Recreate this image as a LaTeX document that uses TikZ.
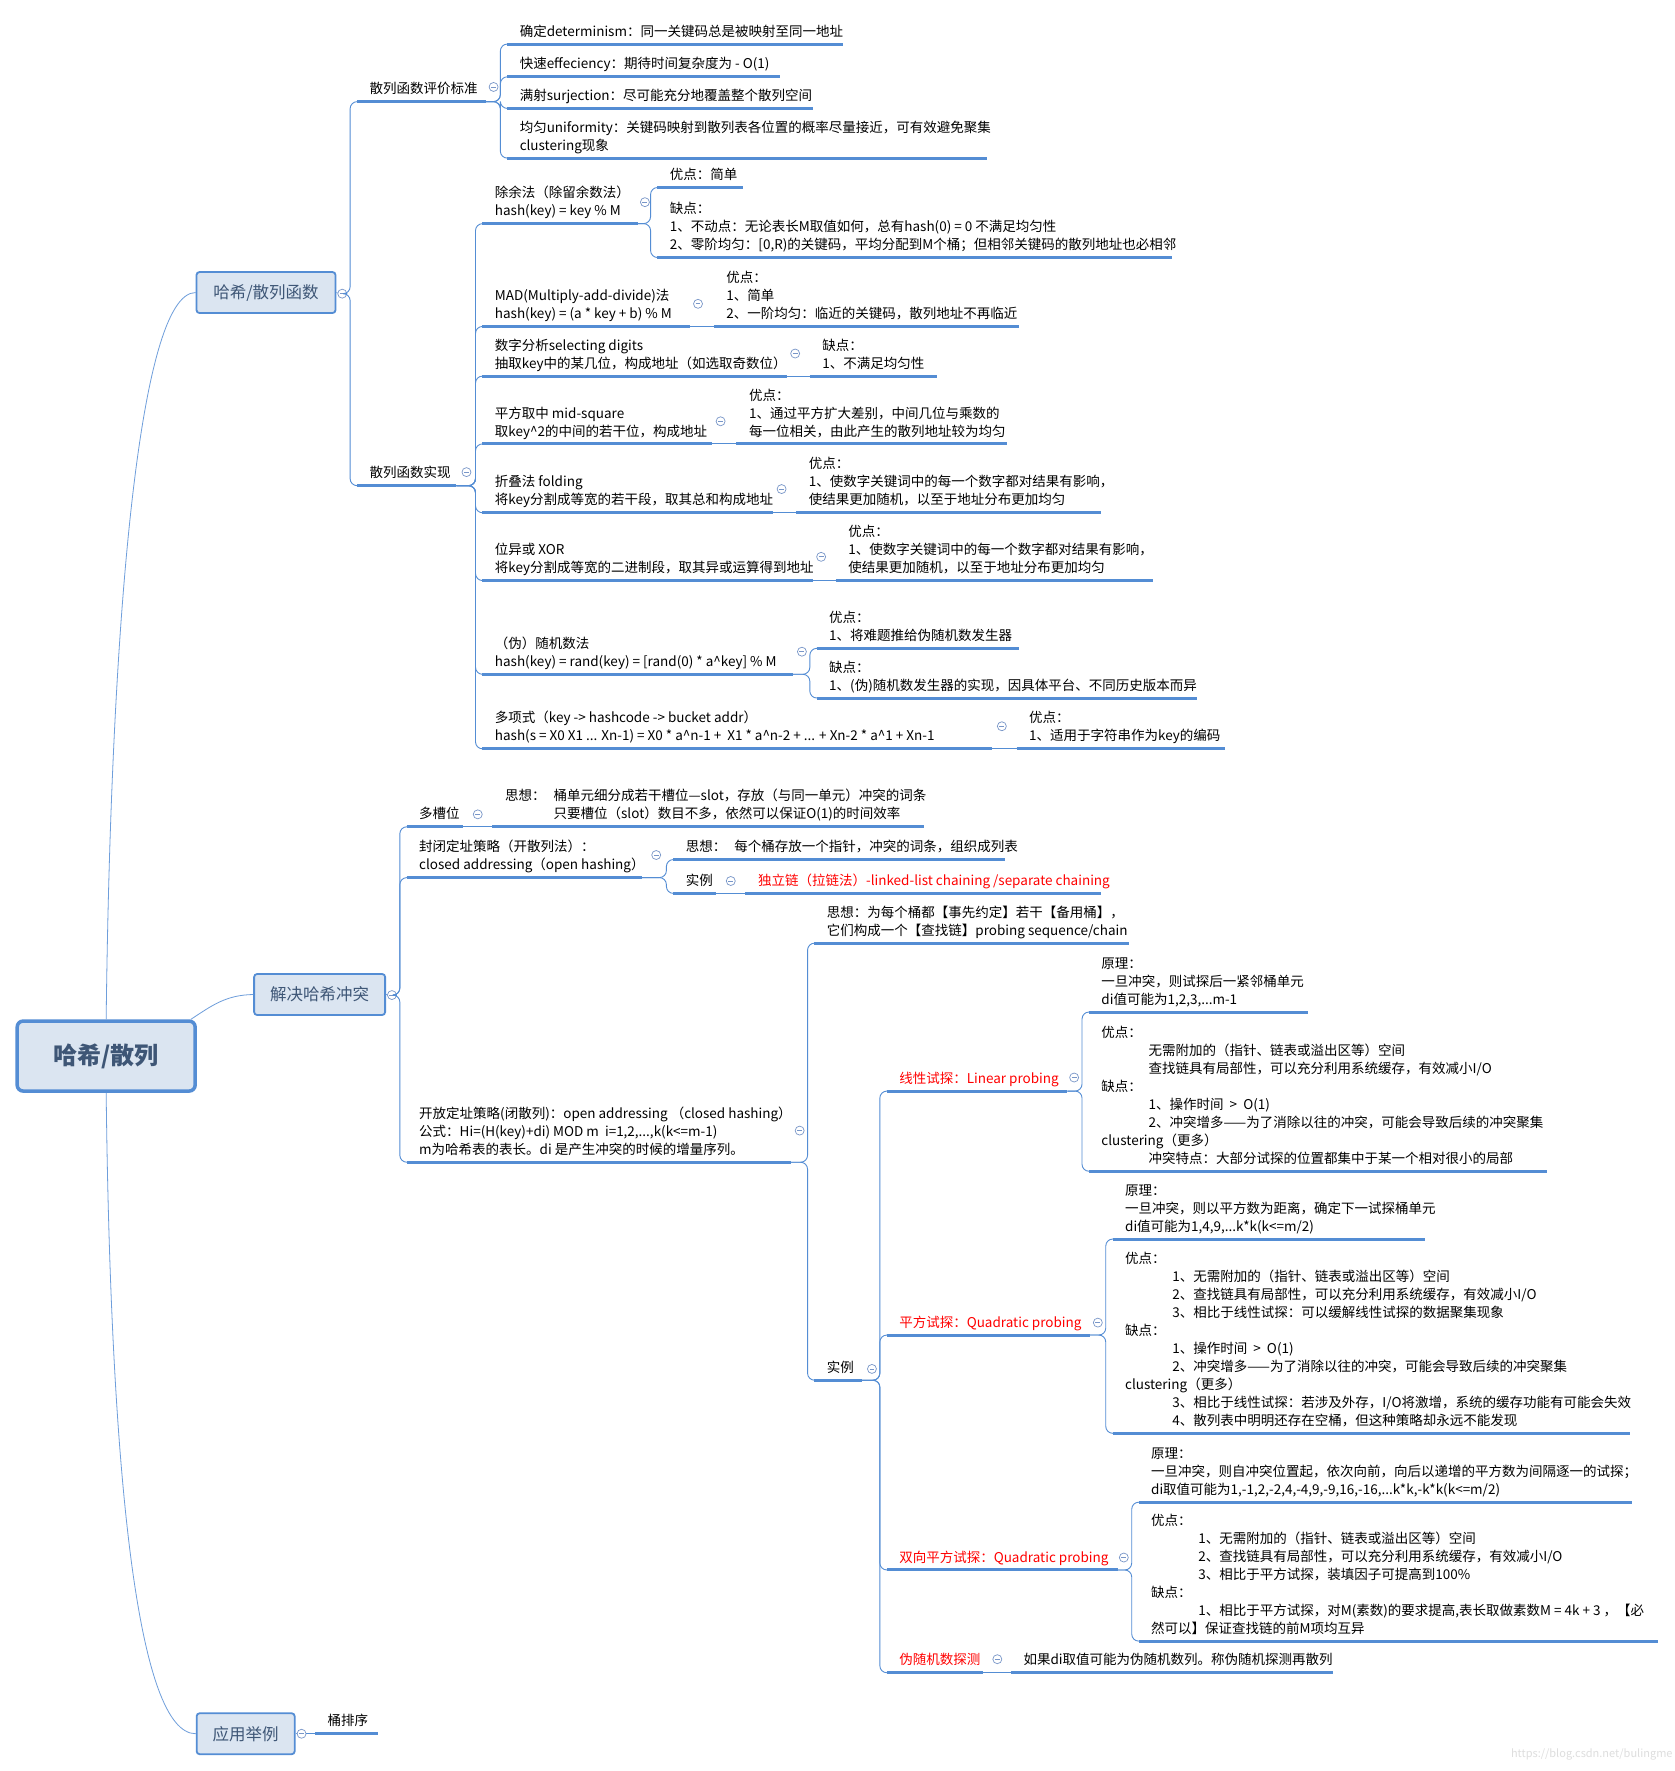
\documentclass[tikz,border=0pt]{standalone}
\usepackage{fontspec}
\setmainfont{Noto Sans CJK SC}
\usepackage{tikz}
\usetikzlibrary{calc,positioning}
\definecolor{mmblue}{RGB}{84,141,212}
\definecolor{mmfill}{RGB}{219,229,241}
\definecolor{mmtext}{RGB}{62,86,118}
\definecolor{mmfold}{RGB}{120,150,200}
\definecolor{mmred}{RGB}{255,0,0}
\tikzset{
  uline/.style={mmblue, line width=3pt},
  twig/.style={mmblue, line width=0.9pt, rounded corners=7pt},
  stem/.style={mmblue!85, line width=0.8pt},
  txt/.style={anchor=south west, inner sep=0pt, align=left,
    font=\fontsize{13.5pt}{18pt}\selectfont, execute at end node=\strut},
  fold/.style={circle, draw=mmfold, fill=white, line width=0.7pt, minimum size=9pt, inner sep=0pt},
  foldbar/.style={mmfold, line width=0.7pt},
  l1box/.style={draw=mmblue, fill=mmfill, line width=1.8pt, rounded corners=3pt,
    minimum height=41pt, inner sep=0pt, text=mmtext, font=\fontsize{16.5pt}{18pt}\selectfont},
  rootbox/.style={draw=mmblue, fill=mmfill, line width=3.5pt, rounded corners=6pt,
    minimum width=178pt, minimum height=70pt, text=mmtext, font=\fontsize{24pt}{28pt}\selectfont\bfseries},
}
% topic with underline: [colour]{name}{x start}{x end}{y of underline}{text}
\newcommand{\mmtopic}[6][black]{%
  \draw[uline] (#3,#5) coordinate (#2-l) -- (#4,#5) coordinate (#2-r);
  \node[txt, text=#1] (#2) at (#3+11,#5-2) {#6};
}
% collapse mark
\newcommand{\mmfold}[3]{%
  \node[fold] (#1) at (#2,#3) {};
  \draw[foldbar] ([xshift=2.4pt]#1.west) -- ([xshift=-2.4pt]#1.east);
}
% elbow connector from parent end to child underline
\newcommand{\mmbranch}[2]{%
  \draw[twig] (#1) -- ($(#1 -| #2)+(-6,0)$) -- ($(#2)+(-6,0)$) -- (#2);
}
% straight connector for a single child on the same line
\newcommand{\mmlink}[2]{\draw[twig] (#1) -- (#2);}
\newcommand{\ind}{\hspace*{3.5em}}
\begin{document}
\begin{tikzpicture}[x=1.1295pt, y=-1.1295pt]
  \fill[white] (0,0) rectangle (1483,1568);
  \useasboundingbox (0,0) rectangle (1483,1568);

  % root and main branches
  \node[rootbox] (root) at (94,935) {哈希/散列};
  \node[l1box, minimum width=139pt] (hf) at (235.5,259) {哈希/散列函数};
  \node[l1box, minimum width=131pt] (jj) at (283,880.5) {解决哈希冲突};
  \node[l1box, minimum width=98pt] (yy) at (217.5,1535) {应用举例};
  \draw[stem] (root.north) .. controls (98,560) and (122,259) .. (hf.west);
  \draw[stem] ([xshift=-6pt]root.north east) .. controls (188,890) and (200,881) .. (jj.west);
  \draw[stem] (root.south) .. controls (98,1310) and (122,1535) .. (yy.west);
  \mmfold{hf-c}{303}{260}
  \mmfold{jj-c}{347}{881}
  \mmfold{yy-c}{267}{1535}
  \draw[stem] (hf.east) -- (hf-c);
  \draw[stem] (jj.east) -- (jj-c);
  \draw[stem] (yy.east) -- (yy-c);

  % hash function: criteria
  \mmtopic{pj}{316}{430}{90}{散列函数评价标准}
  \mmfold{pj-c}{437}{77}
  \mmtopic{a1}{449}{746}{39}{确定determinism：同一关键码总是被映射至同一地址}
  \mmtopic{a2}{449}{691}{68}{快速effeciency：期待时间复杂度为 - O(1)}
  \mmtopic{a3}{449}{720}{96}{满射surjection：尽可能充分地覆盖整个散列空间}
  \mmtopic{a4}{449}{874}{140}{均匀uniformity：关键码映射到散列表各位置的概率尽量接近，可有效避免聚集\\clustering现象}
  \foreach \kid in {a1,a2,a3,a4} {\mmbranch{pj-r}{\kid-l}}

  % hash function: implementations
  \mmtopic{sx}{316}{404}{430}{散列函数实现}
  \mmfold{sx-c}{413}{418}
  \foreach \kid in {pj,sx} {\mmbranch{hf-c}{\kid-l}}

  \mmtopic{b1}{427}{565}{198}{除余法（除留余数法）\\hash(key) = key \% M}
  \mmfold{b1-c}{571}{179}
  \mmtopic{b1a}{582}{658}{166}{优点：简单}
  \mmtopic{b1b}{582}{1038}{228}{缺点：\\1、不动点：无论表长M取值如何，总有hash(0) = 0 不满足均匀性\\2、零阶均匀：[0,R)的关键码，平均分配到M个桶；但相邻关键码的散列地址也必相邻}
  \foreach \kid in {b1a,b1b} {\mmbranch{b1-r}{\kid-l}}

  \mmtopic{b2}{427}{611}{289}{MAD(Multiply-add-divide)法\\hash(key) = (a * key + b) \% M}
  \mmfold{b2-c}{618}{269}
  \mmtopic{b2a}{632}{902}{289}{优点：\\1、简单\\2、一阶均匀：临近的关键码，散列地址不再临近}
  \mmlink{b2-r}{b2a-l}

  \mmtopic{b3}{427}{697}{333}{数字分析selecting digits\\抽取key中的某几位，构成地址（如选取奇数位）}
  \mmfold{b3-c}{704}{313}
  \mmtopic{b3a}{717}{830}{333}{缺点：\\1、不满足均匀性}
  \mmlink{b3-r}{b3a-l}

  \mmtopic{b4}{427}{630}{393}{平方取中 mid-square\\取key\textasciicircum{}2的中间的若干位，构成地址}
  \mmfold{b4-c}{638}{373}
  \mmtopic{b4a}{652}{892}{393}{优点：\\1、通过平方扩大差别，中间几位与乘数的\\每一位相关，由此产生的散列地址较为均匀}
  \mmlink{b4-r}{b4a-l}

  \mmtopic{b5}{427}{684}{454}{折叠法 folding\\将key分割成等宽的若干段，取其总和构成地址}
  \mmfold{b5-c}{692}{433}
  \mmtopic{b5a}{705}{975}{454}{优点：\\1、使数字关键词中的每一个数字都对结果有影响，\\使结果更加随机，以至于地址分布更加均匀}
  \mmlink{b5-r}{b5a-l}

  \mmtopic{b6}{427}{720}{514}{位异或 XOR\\将key分割成等宽的二进制段，取其异或运算得到地址}
  \mmfold{b6-c}{727}{493}
  \mmtopic{b6a}{740}{1021}{514}{优点：\\1、使数字关键词中的每一个数字都对结果有影响，\\使结果更加随机，以至于地址分布更加均匀}
  \mmlink{b6-r}{b6a-l}

  \mmtopic{b7}{427}{702}{597}{（伪）随机数法\\hash(key) = rand(key) = [rand(0) * a\textasciicircum{}key] \% M}
  \mmfold{b7-c}{710}{577}
  \mmtopic{b7a}{723}{902}{574}{优点：\\1、将难题推给伪随机数发生器}
  \mmtopic{b7b}{723}{1060}{618}{缺点：\\1、(伪)随机数发生器的实现，因具体平台、不同历史版本而异}
  \foreach \kid in {b7a,b7b} {\mmbranch{b7-r}{\kid-l}}

  \mmtopic{b8}{427}{878}{663}{多项式（key -> hashcode -> bucket addr）\\hash(s = X0 X1 ... Xn-1) = X0 * a\textasciicircum{}n-1 +\ \ X1 * a\textasciicircum{}n-2 + ... + Xn-2 * a\textasciicircum{}1 + Xn-1}
  \mmfold{b8-c}{887}{643}
  \mmtopic{b8a}{900}{1085}{663}{优点：\\1、适用于字符串作为key的编码}
  \mmlink{b8-r}{b8a-l}

  \foreach \kid in {b1,b2,b3,b4,b5,b6,b7,b8} {\mmbranch{sx-r}{\kid-l}}

  % collisions: multi-slot and closed addressing
  \mmtopic{c1}{360}{410}{732}{多槽位}
  \mmfold{c1-c}{423}{721}
  \mmtopic{c1a}{436}{818}{732}{思想：\hspace{0.6em}桶单元细分成若干槽位—slot，存放（与同一单元）冲突的词条\\\hspace*{3.6em}只要槽位（slot）数目不多，依然可以保证O(1)的时间效率}
  \mmlink{c1-r}{c1a-l}

  \mmtopic{c2}{360}{568}{777}{封闭定址策略（开散列法）：\\closed addressing（open hashing）}
  \mmfold{c2-c}{581}{757}
  \mmtopic{c2a}{596}{890}{761}{思想：\hspace{0.6em}每个桶存放一个指针，冲突的词条，组织成列表}
  \mmtopic{c2b}{596}{634}{791}{实例}
  \mmfold{c2b-c}{647}{780}
  \mmtopic[mmred]{c2c}{660}{975}{791}{独立链（拉链法）-linked-list chaining /separate chaining}
  \foreach \kid in {c2a,c2b} {\mmbranch{c2-r}{\kid-l}}
  \mmlink{c2b-r}{c2c-l}

  % collisions: open addressing
  \mmtopic{c3}{360}{700}{1029}{开放定址策略(闭散列)：open addressing （closed hashing）\\公式：Hi=(H(key)+di) MOD m\ \ i=1,2,...,k(k<=m-1)\\m为哈希表的表长。di 是产生冲突的时候的增量序列。}
  \mmfold{c3-c}{708}{1001}
  \foreach \kid in {c1,c2,c3} {\mmbranch{jj-c}{\kid-l}}

  \mmtopic{c3a}{721}{1000}{835}{思想：为每个桶都【事先约定】若干【备用桶】，\\它们构成一个【查找链】probing sequence/chain}
  \mmtopic{c3b}{721}{763}{1222}{实例}
  \mmfold{c3b-c}{772}{1212}
  \foreach \kid in {c3a,c3b} {\mmbranch{c3-r}{\kid-l}}

  \mmtopic[mmred]{d1}{785}{945}{966}{线性试探：Linear probing}
  \mmfold{d1-c}{951}{954}
  \mmtopic{d1a}{964}{1158}{896}{原理：\\一旦冲突，则试探后一紧邻桶单元\\di值可能为1,2,3,...m-1}
  \mmtopic{d1b}{964}{1370}{1037}{优点：\\\ind 无需附加的（指针、链表或溢出区等）空间\\\ind 查找链具有局部性，可以充分利用系统缓存，有效减小I/O\\缺点：\\\ind 1、操作时间\ \ >\ \ O(1)\\\ind 2、冲突增多——为了消除以往的冲突，可能会导致后续的冲突聚集\\clustering（更多）\\\ind 冲突特点：大部分试探的位置都集中于某一个相对很小的局部}
  \foreach \kid in {d1a,d1b} {\mmbranch{d1-r}{\kid-l}}

  \mmtopic[mmred]{d2}{785}{965}{1182}{平方试探：Quadratic probing}
  \mmfold{d2-c}{972}{1171}
  \mmtopic{d2a}{985}{1262}{1097}{原理：\\一旦冲突，则以平方数为距离，确定下一试探桶单元\\di值可能为1,4,9,...k*k(k<=m/2)}
  \mmtopic{d2b}{985}{1443}{1269}{优点：\\\ind 1、无需附加的（指针、链表或溢出区等）空间\\\ind 2、查找链具有局部性，可以充分利用系统缓存，有效减小I/O\\\ind 3、相比于线性试探：可以缓解线性试探的数据聚集现象\\缺点：\\\ind 1、操作时间\ \ >\ \ O(1)\\\ind 2、冲突增多——为了消除以往的冲突，可能会导致后续的冲突聚集\\clustering（更多）\\\ind 3、相比于线性试探：若涉及外存，I/O将激增，系统的缓存功能有可能会失效\\\ind 4、散列表中明明还存在空桶，但这种策略却永远不能发现}
  \foreach \kid in {d2a,d2b} {\mmbranch{d2-r}{\kid-l}}

  \mmtopic[mmred]{d3}{785}{990}{1390}{双向平方试探：Quadratic probing}
  \mmfold{d3-c}{995}{1379}
  \mmtopic{d3a}{1008}{1445}{1330}{原理：\\一旦冲突，则自冲突位置起，依次向前，向后以递增的平方数为间隔逐一的试探；\\di取值可能为1,-1,2,-2,4,-4,9,-9,16,-16,...k*k,-k*k(k<=m/2)}
  \mmtopic{d3b}{1008}{1468}{1453}{优点：\\\ind 1、无需附加的（指针、链表或溢出区等）空间\\\ind 2、查找链具有局部性，可以充分利用系统缓存，有效减小I/O\\\ind 3、相比于平方试探，装填因子可提高到100\%\\缺点：\\\ind 1、相比于平方试探，对M(素数)的要求提高,表长取做素数M = 4k + 3 ，【必\\然可以】保证查找链的前M项均互异}
  \foreach \kid in {d3a,d3b} {\mmbranch{d3-r}{\kid-l}}

  \mmtopic[mmred]{d4}{785}{870}{1481}{伪随机数探测}
  \mmfold{d4-c}{883}{1469}
  \mmtopic{d4a}{895}{1180}{1481}{如果di取值可能为伪随机数列。称伪随机探测再散列}
  \mmlink{d4-r}{d4a-l}

  \foreach \kid in {d1,d2,d3,d4} {\mmbranch{c3b-r}{\kid-l}}

  % applications
  \mmtopic{t1}{279}{335}{1535}{桶排序}
  \mmlink{yy-c}{t1-l}

  \node[anchor=east, inner sep=0pt, text=black!13, font=\fontsize{11pt}{13pt}\selectfont] (wm) at (1481,1553) {https://blog.csdn.net/bulingme};
\end{tikzpicture}
\end{document}
